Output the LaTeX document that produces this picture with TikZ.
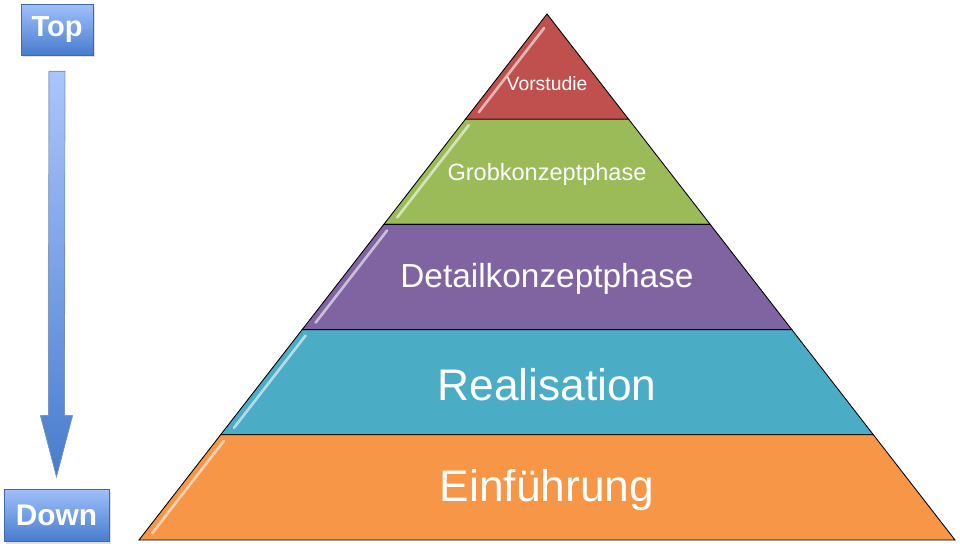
\documentclass[tikz,border=0pt]{standalone}
\usepackage{fontspec}
\setmainfont{Liberation Sans}
\usepackage{xcolor}
\definecolor{vorred}{RGB}{192,80,77}
\definecolor{grobgreen}{RGB}{155,187,89}
\definecolor{detailpurple}{RGB}{128,100,162}
\definecolor{realblue}{RGB}{75,172,198}
\definecolor{einorange}{RGB}{247,150,70}
\definecolor{boxlight}{RGB}{160,192,250}
\definecolor{boxdark}{RGB}{72,124,206}
\definecolor{boxedge}{RGB}{60,105,175}
\usetikzlibrary{positioning,calc,shadows}

\begin{document}
\begin{tikzpicture}[x=0.02cm,y=-0.02cm,
  phasebox/.style={draw=boxedge,top color=boxlight,bottom color=boxdark,text=white,inner sep=0pt,
    drop shadow={opacity=0.25,shadow xshift=0.04cm,shadow yshift=-0.05cm}},
  layer/.style={draw=black,line width=0.5pt},
  gloss/.style={line width=1.5pt,line cap=round,draw opacity=0.9},
  layertext/.style={text=white,inner sep=0pt}]
  \useasboundingbox (0,0) rectangle (960,545);
  % direction boxes
  \node[phasebox,minimum width=1.44cm,minimum height=1.02cm,
        font=\bfseries\fontsize{16.5}{19}\selectfont] (top) at (57,29.5) {Top};
  \node[phasebox,minimum width=2.1cm,minimum height=1.04cm,
        font=\bfseries\fontsize{17}{20}\selectfont] (down) at (56.5,515) {Down};
  % arrow from top to down
  \filldraw[draw=boxedge!70,line width=0.4pt,top color=boxlight!90!white,bottom color=boxdark]
    ($(top.south)+(-8,16)$) -- ($(top.south)+(8,16)$) -- ($(down.north)+(8,-73)$)
    -- ($(down.north)+(16,-73)$) -- ($(down.north)+(0,-12)$)
    -- ($(down.north)+(-16,-73)$) -- ($(down.north)+(-8,-73)$) -- cycle;
  % pyramid layers
  \foreach \phase/\col/\fs/\ty [count=\i from 0] in {Vorstudie/vorred/11/84,
      Grobkonzeptphase/grobgreen/13.4/174, Detailkonzeptphase/detailpurple/19/279,
      Realisation/realblue/25.2/385, Einführung/einorange/25.2/490}{
    \pgfmathsetmacro\ya{14+105.2*\i}
    \pgfmathsetmacro\yb{\ya+105.2}
    \pgfmathsetmacro\wa{(\ya-14)*0.7757}
    \pgfmathsetmacro\wb{(\yb-14)*0.7757}
    \filldraw[layer,fill=\col] ({547-\wa},\ya) -- ({547+\wa},\ya) -- ({547+\wb},\yb)
      -- ({547-\wb},\yb) -- cycle;
    \pgfmathsetmacro\ga{\ya+(\i==0 ? 14 : 6)}
    \pgfmathsetmacro\gb{\yb-7}
    \draw[gloss,draw=\col!35!white] ({555-(\ga-14)*0.7757},\ga) -- ({555-(\gb-14)*0.7757},\gb);
    \node[layertext,font=\fontsize{\fs}{\fs}\selectfont] (phase\i) at (547,\ty) {\phase};
  }
\end{tikzpicture}
\end{document}
